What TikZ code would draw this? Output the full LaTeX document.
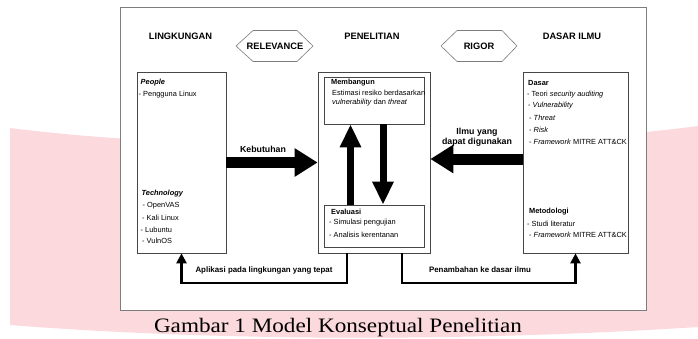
\documentclass[tikz,border=0pt]{standalone}
\usepackage{fontspec}
\setmainfont{Liberation Serif}
\setsansfont{Liberation Sans}
\usetikzlibrary{positioning,arrows.meta}
\definecolor{latarpink}{RGB}{251,217,221}
\definecolor{abubingkai}{RGB}{125,125,125}
\definecolor{abukotak}{RGB}{70,70,70}
\tikzset{
  kotak/.style={draw=abukotak, line width=0.7pt, fill=white, inner sep=0pt},
  judul/.style={font=\sffamily\bfseries\fontsize{9.3}{11}\selectfont},
  isi/.style={anchor=west, inner sep=0pt, font=\sffamily\fontsize{7.4}{8.8}\selectfont},
  kepala/.style={isi, font=\sffamily\bfseries\fontsize{7.4}{8.8}\selectfont},
  heksa/.style={draw=abubingkai, line width=0.6pt},
  gemuk/.style={line width=11pt, -{Triangle[length=23pt,width=27pt]}},
  ramping/.style={line width=7pt, -{Triangle[length=23pt,width=20pt]}},
  alur/.style={line width=2.3pt, -{Triangle[length=10pt,width=10pt]}},
  label/.style={font=\sffamily\bfseries\fontsize{8.8}{9.5}\selectfont},
  labelkecil/.style={font=\sffamily\bfseries\fontsize{7.9}{9}\selectfont}
}
\begin{document}
\begin{tikzpicture}[x=1pt, y=-1pt, line join=miter]
			\useasboundingbox (0,0) rectangle (698,338);
			% latar belakang
			\fill [latarpink] (10,128) .. controls (200,152) and (500,152) .. (698,126)
			  -- (698,327) .. controls (450,343) and (200,340) .. (10,325) -- cycle;
			\node [draw=abubingkai, line width=0.8pt, fill=white, inner sep=0pt,
			  minimum width=526pt, minimum height=303pt] (bingkai) at (383,158.5) {};
			% judul kolom
			\node [judul] (lingkungan) at (180.5,36) {LINGKUNGAN};
			\node [judul] (penelitian) at (372,36) {PENELITIAN};
			\node [judul] (dasarilmu) at (572,36) {DASAR ILMU};
			\node [judul] (relevance) at (275,46) {RELEVANCE};
			\draw [heksa] ([xshift=-39pt]relevance.center) -- ++(17,-15.5) -- ++(44,0) -- ++(16,15.5)
			  -- ++(-16,15.5) -- ++(-44,0) -- cycle;
			\node [judul] (rigor) at (479,46) {RIGOR};
			\draw [heksa] ([xshift=-38pt]rigor.center) -- ++(16,-15.5) -- ++(45,0) -- ++(15,15.5)
			  -- ++(-15,15.5) -- ++(-45,0) -- cycle;
			% kotak
			\node [kotak, minimum width=89pt, minimum height=181pt] (lingk) at (181.5,162.5) {};
			\node [kotak, minimum width=112pt, minimum height=181pt] (teliti) at (374,162.5) {};
			\node [kotak, minimum width=100pt, minimum height=47pt] (bangun) at (374,100.5) {};
			\node [kotak, minimum width=100pt, minimum height=42pt] (evaluasi) at (374,226) {};
			\node [kotak, minimum width=105pt, minimum height=181pt] (dasar) at (575.5,162.5) {};
			% isi lingkungan
			\node [kepala] (people) at (140.5,83) {\textit{People}};
			\node [isi] (pengguna) at (138.5,95) {- Pengguna Linux};
			\node [kepala] (technology) at (141.5,194) {\textit{Technology}};
			\node [isi] (openvas) at (142.5,206) {- OpenVAS};
			\node [isi] (kali) at (142,218) {- Kali Linux};
			\node [isi] (lubuntu) at (140.5,229.5) {- Lubuntu};
			\node [isi] (vulnos) at (142,241) {- VulnOS};
			% isi penelitian
			\node [kepala] (membangun) at (331,83) {Membangun};
			\node [isi] (estimasi) at (332,93) {Estimasi resiko berdasarkan};
			\node [isi] (vt) at (332,102.5) {\textit{vulnerability} dan \textit{threat}};
			\node [kepala] (evalteks) at (331,212) {Evaluasi};
			\node [isi] (simulasi) at (329,223) {- Simulasi pengujian};
			\node [isi] (analisis) at (329,234.5) {- Analisis kerentanan};
			% isi dasar ilmu
			\node [kepala] (dasarteks) at (528,83) {Dasar};
			\node [isi] (teori) at (527,94.5) {- Teori \textit{security auditing}};
			\node [isi] (vulner) at (528,106) {- \textit{Vulnerability}};
			\node [isi] (threat) at (529,118) {- \textit{Threat}};
			\node [isi] (risk) at (529,130) {- \textit{Risk}};
			\node [isi] (frame1) at (529,141.5) {- \textit{Framework} MITRE ATT\&CK};
			\node [kepala] (metodologi) at (529,212) {Metodologi};
			\node [isi] (studi) at (527,223.5) {- Studi literatur};
			\node [isi] (frame2) at (529,235) {- \textit{Framework} MITRE ATT\&CK};
			% panah
			\draw [gemuk] (lingk.east) -- (teliti.west);
			\node [label] (kebutuhan) at (263,149) {Kebutuhan};
			\draw [gemuk] ([yshift=3.5pt]dasar.west) -- ([yshift=3.5pt]teliti.east);
			\node [label, align=center] (ilmu) at (477,137) {Ilmu yang\\dapat digunakan};
			\draw [ramping] ([xshift=-23.5pt]evaluasi.north) -- ([xshift=-23.5pt]bangun.south);
			\draw [ramping] ([xshift=9pt]bangun.south) -- ([xshift=9pt]evaluasi.north);
			\draw [alur] ([xshift=-27pt]teliti.south) -- ++(0,29.5) -| (lingk.south);
			\node [labelkecil] (aplikasi) at (264,270) {Aplikasi pada lingkungan yang tepat};
			\draw [alur] ([xshift=28pt]teliti.south) -- ++(0,29.5) -| (dasar.south);
			\node [labelkecil] (penambahan) at (480,270) {Penambahan ke dasar ilmu};
			% keterangan gambar
			\node [anchor=base, inner sep=0pt, font=\rmfamily\fontsize{20.5}{24}\selectfont] (keterangan)
			  at (338,332) {\scalebox{1.13}[1]{Gambar 1 Model Konseptual Penelitian}};
\end{tikzpicture}
\end{document}
